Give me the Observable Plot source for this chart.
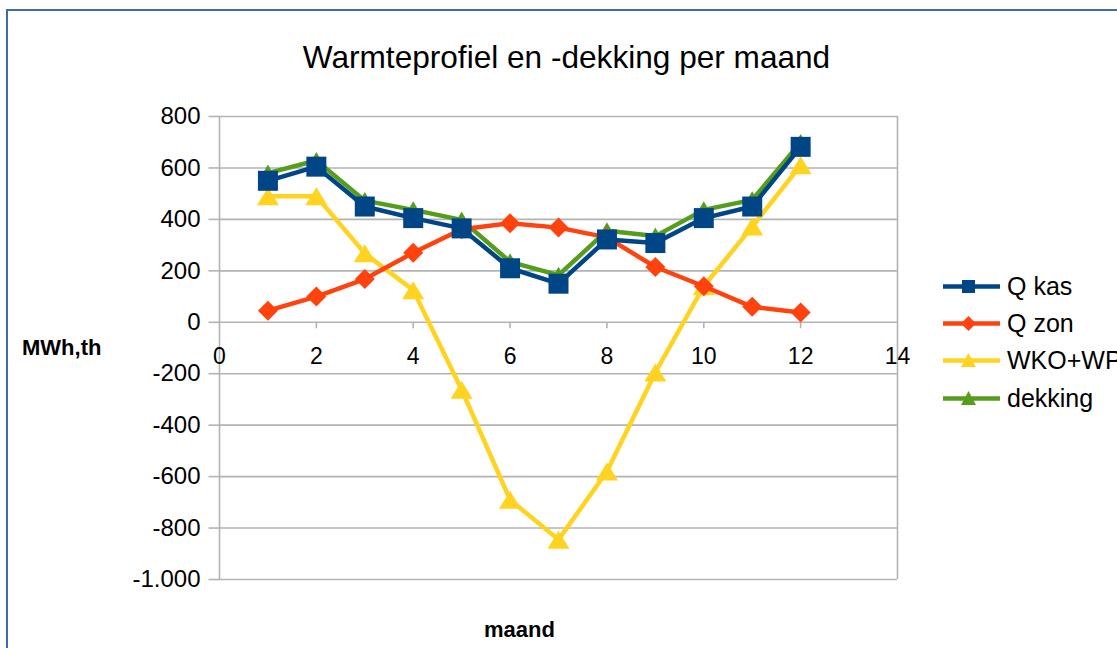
<!DOCTYPE html>
<html>
<head>
<meta charset="utf-8">
<script src="https://cdn.jsdelivr.net/npm/d3@7"></script>
<script src="https://cdn.jsdelivr.net/npm/@observablehq/plot@0.6"></script>
<style>
  html, body { margin: 0; padding: 0; background: #fff; }
  #wrap { position: relative; width: 1117px; height: 648px; overflow: hidden; font-family: "Liberation Sans", Arial, sans-serif; }
  #frame { position: absolute; left: 6px; top: 9px; width: 3000px; height: 3000px; border-top: 2px solid #3a6bb3; border-left: 2px solid #3a6bb3; }
  #chart { position: absolute; left: 0; top: 0; }
  #title { position: absolute; left: 0; width: 1133px; top: 39px; text-align: center; font-size: 31.6px; color: #000; white-space: nowrap; }
  .axtitle { position: absolute; font-weight: bold; font-size: 22px; color: #000; white-space: nowrap; }
  #legend { position: absolute; left: 940px; top: 270px; }
  .lg { position: absolute; left: 0; height: 36px; white-space: nowrap; font-size: 25px; color: #000; }
  .lg svg { position: absolute; left: 0; top: 0; }
  .lg span { position: absolute; left: 67px; top: 2px; }
</style>
</head>
<body>
<div id="wrap">
  <div id="frame"></div>
  <div id="chart"></div>
  <div id="title">Warmteprofiel en -dekking per maand</div>
  <div class="axtitle" style="left:22px; top:335px;">MWh,th</div>
  <div class="axtitle" style="left:484px; top:617px;">maand</div>
  <div id="legend"></div>
</div>
<script>
// ---- data ----
const months = [1, 2, 3, 4, 5, 6, 7, 8, 9, 10, 11, 12];
const seriesNames = ["Q kas", "Q zon", "WKO+WP", "dekking"];
const qKas    = [550, 605, 450, 405, 365, 210, 150, 322, 308, 405, 450, 682];
const qZon    = [45, 100, 168, 270, 362, 385, 368, 330, 215, 140, 60, 38];
const wkoWp   = [490, 490, 268, 125, -262, -690, -845, -580, -195, 140, 372, 610];
const dekking = [580, 629, 473, 437, 398, 235, 183, 356, 335, 437, 476, 699];
const xTicks = [0, 2, 4, 6, 8, 10, 12, 14];
const yTicks = [800, 600, 400, 200, 0, -200, -400, -600, -800, -1000];

// ---- styling ----
const colors = {"Q kas": "#004586", "Q zon": "#ff420e", "WKO+WP": "#ffd320", "dekking": "#579d1c"};
const grid = "#b3b3b3";

function rect(w, h) { return {draw(c) { c.moveTo(-w/2, -h/2); c.lineTo(w/2, -h/2); c.lineTo(w/2, h/2); c.lineTo(-w/2, h/2); c.closePath(); }}; }
function diamond(w, h) { return {draw(c) { c.moveTo(0, -h/2); c.lineTo(w/2, 0); c.lineTo(0, h/2); c.lineTo(-w/2, 0); c.closePath(); }}; }
function tri(w, h) { return {draw(c) { c.moveTo(0, -h/2); c.lineTo(w/2, h/2); c.lineTo(-w/2, h/2); c.closePath(); }}; }
const vtick = {draw(c) { c.moveTo(0, 0); c.lineTo(0, 6); }};
const htick = {draw(c) { c.moveTo(-11, 0); c.lineTo(0, 0); }};

const symbols = {"Q kas": rect(20, 20), "Q zon": diamond(20, 20), "WKO+WP": tri(22, 18), "dekking": tri(20, 17)};
const valuesByName = {"Q kas": qKas, "Q zon": qZon, "WKO+WP": wkoWp, "dekking": dekking};

const nl = d3.formatLocale({decimal: ",", thousands: ".", grouping: [3], currency: ["€", ""], minus: "-"});
const fmt = nl.format(",d");

const drawOrder = ["dekking", "WKO+WP", "Q zon", "Q kas"];
const seriesMarks = [];
for (const name of drawOrder) {
  const data = months.map((m, i) => ({month: m, value: valuesByName[name][i]}));
  seriesMarks.push(Plot.line(data, {x: "month", y: "value", stroke: colors[name], strokeWidth: 4.5, strokeLinejoin: "round"}));
  seriesMarks.push(Plot.dot(data, {x: "month", y: "value", symbol: symbols[name], fill: colors[name], stroke: "none"}));
}

const chart = Plot.plot({
  width: 1117,
  height: 648,
  marginLeft: 219,
  marginRight: 220,
  marginTop: 116,
  marginBottom: 69,
  x: {domain: [0, 14], axis: null},
  y: {domain: [-1000, 800], axis: null},
  style: {fontFamily: "Liberation Sans, Arial, sans-serif", fontSize: "22px", background: "transparent", overflow: "visible"},
  marks: [
    Plot.ruleY(yTicks, {stroke: grid, strokeWidth: 1.6}),
    Plot.ruleX([xTicks[0], xTicks[xTicks.length - 1]], {stroke: grid, strokeWidth: 1.6}),
    Plot.dot(yTicks, {x: 0, y: d => d, symbol: htick, stroke: grid, strokeWidth: 1.6}),
    Plot.dot(xTicks.slice(1, -1), {x: d => d, y: 0, symbol: vtick, stroke: grid, strokeWidth: 1.6}),
    Plot.text(yTicks, {x: 0, y: d => d, text: d => fmt(d), textAnchor: "end", dx: -19, fill: "#000", fontSize: 24}),
    Plot.text(xTicks, {x: d => d, y: 0, text: d => String(d), dy: 34, fill: "#000", fontSize: 23}),
    ...seriesMarks
  ]
});
document.getElementById("chart").appendChild(chart);

// ---- legend ----
const legend = document.getElementById("legend");
const legendSyms = {
  "Q kas": '<rect x="22" y="10" width="13" height="13"/>',
  "Q zon": '<path d="M28.5,9 L36,16.5 L28.5,24 L21,16.5 Z"/>',
  "WKO+WP": '<path d="M28.5,9 L36,23 L21,23 Z"/>',
  "dekking": '<path d="M28.5,9 L36,23 L21,23 Z"/>'
};
const rowTops = [0, 37, 74, 112];
seriesNames.forEach((name, i) => {
  const row = document.createElement("div");
  row.className = "lg";
  row.style.top = rowTops[i] + "px";
  row.innerHTML = `<svg width="62" height="34"><line x1="3" x2="60" y1="16.5" y2="16.5" stroke="${colors[name]}" stroke-width="4.5"/><g fill="${colors[name]}">${legendSyms[name]}</g></svg><span>${name}</span>`;
  legend.appendChild(row);
});
</script>
</body>
</html>
